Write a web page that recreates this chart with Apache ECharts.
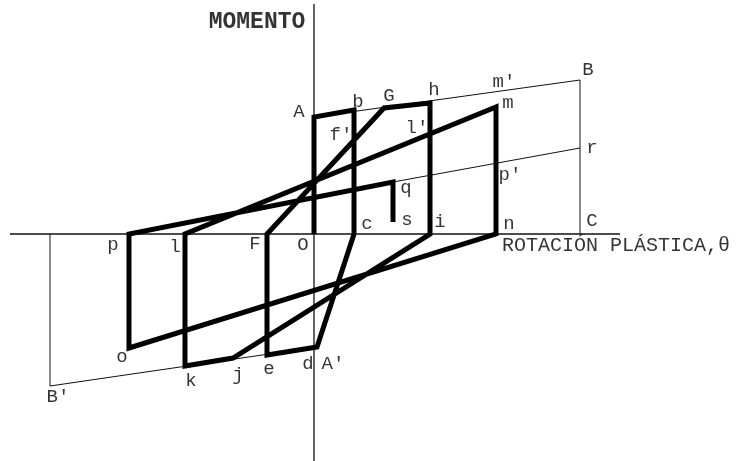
<!DOCTYPE html>
<html>
<head>
<meta charset="utf-8">
<script src="https://cdn.jsdelivr.net/npm/echarts@6/dist/echarts.min.js"></script>
<style>
html, body { margin: 0; padding: 0; background: #fff; }
#main { width: 740px; height: 461px; }
</style>
</head>
<body>
<div id="main"></div>
<script>
// hysteresis path, in order O -> A -> b -> ... -> s
var pathNames = ['O', 'A', 'b', 'c', 'd', 'e', 'F', 'G', 'h', 'i', 'j', 'k', 'l', 'm', 'n', 'o', 'p', 'q', 's'];
var pathRot = [0, 0, 4.0, 4.0, 0.3, -4.7, -4.7, 7.0, 11.6, 11.6, -8.1, -12.9, -12.9, 18.2, 18.2, -18.5, -18.5, 7.9, 7.9];
var pathMom = [0, 11.7, 12.4, 0, -11.3, -12.1, 0, 12.6, 13.1, 0, -12.4, -13.2, 0, 12.7, 0, -11.4, 0, 5.2, 1.2];

// thin guide lines
var upperRot = [0, 26.6, 26.6];
var upperMom = [11.7, 15.4, 0];
var qrRot = [7.9, 26.6];
var qrMom = [5.2, 8.6];
var lowerRot = [-26.4, -26.4, 0.3];
var lowerMom = [0, -15.2, -11.3];

// axes extents
var axisXRot = [-30.4, 30.6];
var axisYMom = [23.0, -22.7];

// point labels
var labelText = ['A', 'b', "f'", 'G', 'h', "m'", 'B', 'm', "l'", 'r', "p'", 'q', 's', 'c', 'i', 'n', 'C',
  'O', 'F', 'p', 'l', 'o', 'k', 'j', 'e', 'd', "A'", "B'"];
var labelRot = [-1.5, 4.4, 2.7, 7.5, 12.0, 19.0, 27.4, 19.4, 10.3, 27.8, 19.6, 9.2, 9.3, 5.3, 12.6, 19.5, 27.8,
  -1.1, -5.9, -20.1, -13.9, -19.2, -12.3, -7.6, -4.5, -0.6, 1.9, -25.6];
var labelMom = [12.2, 13.2, 9.9, 13.8, 14.4, 15.2, 16.4, 13.1, 10.6, 8.6, 5.9, 4.6, 1.4, 1.0, 1.2, 1.0, 1.3,
  -1.1, -1.0, -1.1, -1.3, -12.3, -14.7, -14.1, -13.5, -13.0, -13.0, -16.3];

var yTitle = 'MOMENTO';
var xTitle = 'ROTACIÓN PLÁSTICA,θ';

function pairs(a, b) {
  var out = [];
  for (var i = 0; i < a.length; i++) out.push([a[i], b[i]]);
  return out;
}

function thin(data, w) {
  return {
    type: 'line', data: data, symbol: 'none', silent: true,
    lineStyle: { color: '#111', width: w || 1 }
  };
}

var font = 'Liberation Mono, Courier New, monospace';
var labelData = [];
for (var i = 0; i < labelText.length; i++) {
  labelData.push({ value: [labelRot[i], labelMom[i]], name: labelText[i] });
}

var myChart = echarts.init(document.getElementById('main'));
var option = {
  animation: false,
  backgroundColor: '#fff',
  grid: { left: 0, right: 0, top: 0, bottom: 0 },
  xAxis: { type: 'value', min: -31.4, max: 42.6, show: false },
  yAxis: { type: 'value', min: -22.7, max: 23.4, show: false },
  series: [
    thin([[axisXRot[0], 0], [axisXRot[1], 0]], 1.3),
    thin([[0, axisYMom[0]], [0, axisYMom[1]]], 1.3),
    thin(pairs(upperRot, upperMom)),
    thin(pairs(qrRot, qrMom)),
    thin(pairs(lowerRot, lowerMom)),
    {
      type: 'line',
      data: pairs(pathRot, pathMom),
      symbol: 'none',
      lineStyle: { color: '#000', width: 5, join: 'miter', cap: 'butt' }
    },
    {
      type: 'scatter',
      data: labelData,
      symbolSize: 0,
      label: {
        show: true, position: 'inside', formatter: '{b}',
        color: '#000', fontFamily: font, fontSize: 19,
        align: 'center', verticalAlign: 'middle'
      }
    },
    {
      type: 'scatter',
      symbolSize: 0,
      data: [
        { value: [-5.7, 21.2], name: yTitle, label: { fontSize: 23, fontWeight: 'bold' } },
        { value: [30.2, -1.2], name: xTitle, label: { fontSize: 20 } }
      ],
      label: {
        show: true, position: 'inside', formatter: '{b}',
        color: '#000', fontFamily: font,
        align: 'center', verticalAlign: 'middle'
      }
    }
  ]
};
myChart.setOption(option);
</script>
</body>
</html>
